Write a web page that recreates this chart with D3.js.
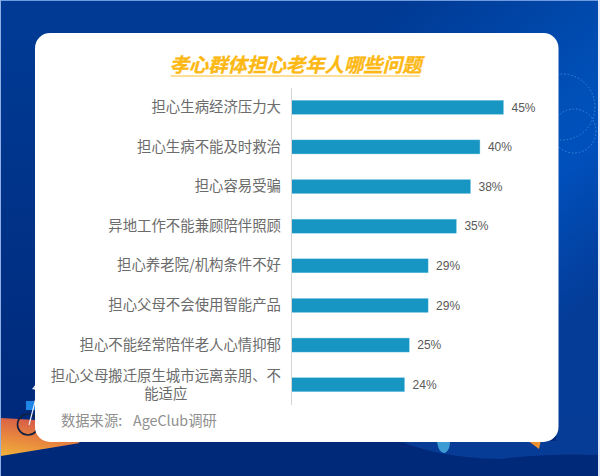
<!DOCTYPE html>
<html><head><meta charset="utf-8">
<script src="https://cdn.jsdelivr.net/npm/d3@7/dist/d3.min.js"></script>
<style>html,body{margin:0;padding:0;background:#fff}svg{display:block}</style>
</head><body><svg id="c" width="600" height="476"></svg>
<script>
const categories = ["担心生病经济压力大","担心生病不能及时救治","担心容易受骗","异地工作不能兼顾陪伴照顾","担心养老院/机构条件不好","担心父母不会使用智能产品","担心不能经常陪伴老人心情抑郁","担心父母搬迁原生城市远离亲朋、不能适应"];
const values = [45,40,38,35,29,29,25,24];
const titleText = "孝心群体担心老年人哪些问题";
const sourceLabel = "数据来源:";
const sourceName = "AgeClub调研";

const CJK = '"Noto Sans CJK SC","Noto Sans",sans-serif';
const svg = d3.select("#c");
const defs = svg.append("defs");
const g1 = defs.append("linearGradient").attr("id","bg").attr("x1",0).attr("y1",0).attr("x2",0.9).attr("y2",0.8);
[[0,"#003a94"],[0.42,"#003a94"],[0.72,"#0050b8"],[0.8,"#0050bc"],[1,"#043c98"]].forEach(d=>g1.append("stop").attr("offset",d[0]).attr("stop-color",d[1]));
const g2 = defs.append("linearGradient").attr("id","sand").attr("x1",0).attr("y1",1).attr("x2",0.35).attr("y2",0);
[[0,"#f0b23a"],[0.45,"#e98a3e"],[1,"#d65a48"]].forEach(d=>g2.append("stop").attr("offset",d[0]).attr("stop-color",d[1]));
const g3 = defs.append("linearGradient").attr("id","strip").attr("x1",0).attr("y1",0).attr("x2",0).attr("y2",1);
[[0,"#003a94"],[1,"#00297a"]].forEach(d=>g3.append("stop").attr("offset",d[0]).attr("stop-color",d[1]));

// backdrop
svg.append("rect").attr("width",600).attr("height",476).attr("fill","#002c7c");
svg.append("rect").attr("x",1).attr("y",1).attr("width",597).attr("height",424).attr("fill","url(#bg)");
svg.append("rect").attr("x",1).attr("y",33).attr("width",40).attr("height",392).attr("fill","url(#strip)");
svg.append("rect").attr("x",1).attr("y",425).attr("width",597).attr("height",51).attr("fill","#00297a");
svg.append("rect").attr("x",0).attr("y",0).attr("width",600).attr("height",1).attr("fill","#6f9be0");
svg.append("rect").attr("x",0).attr("y",0).attr("width",1).attr("height",476).attr("fill","#8fb0e6");
svg.append("rect").attr("x",598).attr("y",0).attr("width",2).attr("height",476).attr("fill","#dfe9f8");
// wave bottom right
svg.append("path").attr("d","M400 441 Q440 458 500 459 Q550 453 598 455 L598 420 L556 420 L556 441 Z").attr("fill","#063c96");
svg.append("path").attr("d","M437 442 Q439 454 445 453 Q450 450 450 442 Z").attr("fill","#3b9bd2");
svg.append("path").attr("d","M527 440 L539 449 L541 440 Z").attr("fill","#ee9130");
// dotted circles
const deco = svg.append("g").attr("fill","none").attr("stroke","#3f86dc").attr("stroke-width",1).attr("stroke-dasharray","1.5 2");
deco.append("circle").attr("cx",562).attr("cy",107).attr("r",33);
deco.append("circle").attr("cx",574).attr("cy",131).attr("r",22);
// ground and bicycle
svg.append("path").attr("d","M1 418 L1 456 L80 443 L36 420 Z").attr("fill","url(#sand)");
svg.append("circle").attr("cx",28).attr("cy",424.5).attr("r",10.5).attr("fill","none").attr("stroke","#10203f").attr("stroke-width",1.6);
svg.append("rect").attr("x",26).attr("y",401).attr("width",10).attr("height",9).attr("fill","#1d86e6");
svg.append("line").attr("x1",29).attr("y1",425).attr("x2",36).attr("y2",398).attr("stroke","#e6eefb").attr("stroke-width",1.2);
svg.append("path").attr("d","M32 389 L36 384 L36 390 Z").attr("fill","#dfe6f2");

// card
svg.append("rect").attr("x",35).attr("y",33).attr("width",523.5).attr("height",409).attr("rx",15).attr("fill","#fff");

// title
svg.append("text").text(titleText).attr("x",295.5).attr("y",72).attr("text-anchor","middle")
  .attr("font-family",CJK).attr("font-size",19.4).attr("font-weight",700).attr("font-style","italic")
  .attr("fill","#fdb813").attr("stroke","#fdb813").attr("stroke-width",0.3);
svg.append("line").attr("x1",170.5).attr("x2",420).attr("y1",76).attr("y2",76).attr("stroke","#fdc030").attr("stroke-width",1.2);

// scales
const x = d3.scaleLinear().domain([0,45]).range([291.5,503.5]);
const y = d3.scaleBand().domain(categories).range([87.5,404.5]).paddingInner(0.646).paddingOuter(0.323);

// bars
svg.append("g").selectAll("rect").data(values).join("rect")
  .attr("x",x(0)).attr("y",(d,i)=>y(categories[i]))
  .attr("width",d=>x(d)-x(0)).attr("height",y.bandwidth())
  .attr("fill","#1795c3").attr("stroke","#7fcbe6").attr("stroke-width",0.4);

// axis
const axis = d3.axisLeft(y).tickSize(0).tickPadding(10);
const ag = svg.append("g").attr("transform","translate(291,0)").call(axis);
ag.select(".domain").attr("stroke","#d4d4d4").attr("stroke-width",1);
ag.selectAll("text").attr("font-family",CJK).attr("font-size",14.4).attr("fill","#6b6b6b").each(function(d){
  const t = d3.select(this);
  if (d.length > 16) {
    const a = d.slice(0,16), b = d.slice(16);
    t.text(null).attr("dy",null);
    t.append("tspan").attr("x",-10).attr("dy","-0.27em").text(a);
    t.append("tspan").attr("x",-10-(a.length-b.length)*14.4/2).attr("dy","1.24em").text(b);
  }
});

// value labels
svg.append("g").selectAll("text").data(values).join("text")
  .attr("x",d=>x(d)+8).attr("y",(d,i)=>y(categories[i])+y.bandwidth()/2+4.3)
  .attr("font-family",'"Liberation Sans",Arial,sans-serif').attr("font-size",12).attr("fill","#595959")
  .text(d=>d+"%");

// source
svg.append("text").text(sourceLabel).attr("x",61).attr("y",426)
  .attr("font-family",CJK).attr("font-size",14.3).attr("fill","#8f8f8f");
svg.append("text").text(sourceName).attr("x",133).attr("y",426)
  .attr("font-family",CJK).attr("font-size",14.3).attr("fill","#8f8f8f");
</script></body></html>
